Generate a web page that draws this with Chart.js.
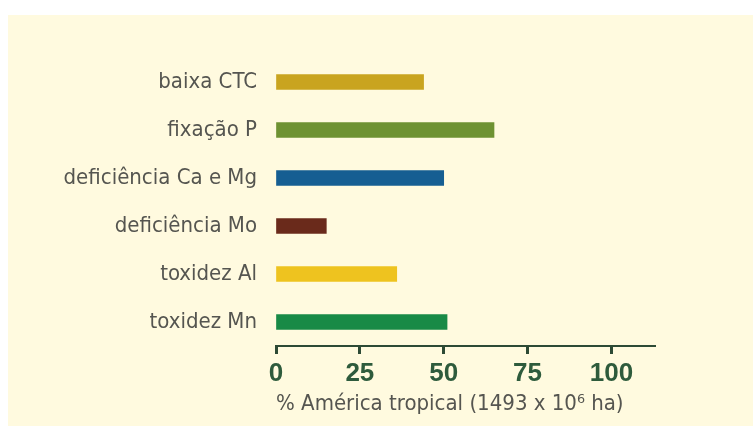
<!DOCTYPE html>
<html>
<head>
<meta charset="utf-8">
<script src="https://cdn.jsdelivr.net/npm/chart.js@4/dist/chart.umd.min.js"></script>
<style>
    body { margin: 0; background: #ffffff; }
    .panel { position: absolute; left: 8px; top: 15px; width: 745px; height: 411px; background: #fffadf; }
</style>
</head>
<body>
<div class="panel"><canvas id="soilChart" width="745" height="411"></canvas></div>
<script>
// categories and values
const categories = ['baixa CTC', 'fixação P', 'deficiência Ca e Mg', 'deficiência Mo', 'toxidez Al', 'toxidez Mn'];
const percentValues = [44, 65, 50, 15, 36, 51];
const barColors = ['#c9a41f', '#6e9232', '#165e92', '#6a2a1b', '#eec31f', '#188a46'];
const xTicks = [0, 25, 50, 75, 100];
const axisTitle = '% América tropical (1493 x 10⁶ ha)';

const narrow = "'DejaVu Sans Condensed', 'Liberation Sans', Arial, sans-serif";

const ctx = document.getElementById('soilChart').getContext('2d');
new Chart(ctx, {
    type: 'bar',
    data: {
        labels: categories,
        datasets: [{
            data: percentValues,
            backgroundColor: barColors,
            barThickness: 15
        }]
    },
    options: {
        indexAxis: 'y',
        responsive: false,
        animation: false,
        layout: { padding: { top: 43, right: 98, left: 0, bottom: 9 } },
        plugins: {
            legend: { display: false },
            tooltip: { enabled: false }
        },
        scales: {
            y: {
                grid: { display: false },
                border: { display: false },
                ticks: {
                    color: '#555550',
                    padding: 11,
                    font: { family: narrow, size: 22 }
                },
                afterFit: function(axis) { axis.width = 268; }
            },
            x: {
                min: 0,
                max: 113,
                grid: {
                    drawOnChartArea: false,
                    drawTicks: true,
                    tickLength: 8,
                    tickWidth: 3,
                    tickColor: '#2d4a35'
                },
                border: { display: true, color: '#2d4a35', width: 2 },
                ticks: {
                    stepSize: 25,
                    includeBounds: false,
                    color: '#2e5b3c',
                    padding: 4,
                    maxRotation: 0,
                    font: { family: "'Liberation Sans', Arial, sans-serif", size: 26, weight: 'bold' },
                    callback: function(value) { return xTicks.includes(value) ? value : ''; }
                },
                title: {
                    display: true,
                    text: axisTitle,
                    align: 'start',
                    color: '#555550',
                    padding: { top: 0, bottom: 0 },
                    font: { family: narrow, size: 22 }
                },
                afterFit: function(axis) { axis.height = 71; }
            }
        }
    }
});
</script>
</body>
</html>
